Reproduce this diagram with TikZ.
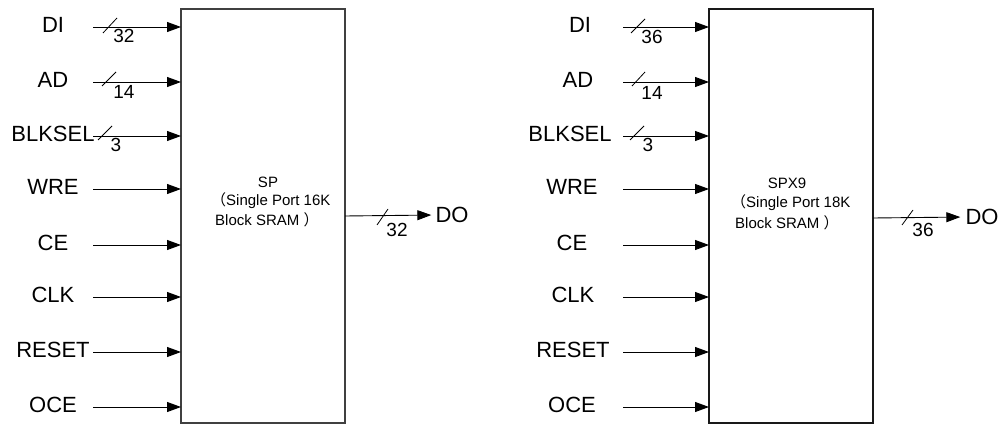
\documentclass[tikz,border=0pt]{standalone}
\usepackage{fontspec}
\setmainfont{Liberation Sans}
\newfontfamily\cjk{Noto Sans CJK SC}
\usetikzlibrary{arrows.meta}
\tikzset{
  sig/.style={font=\fontsize{22}{26}\selectfont, inner sep=0pt},
  bw/.style={font=\fontsize{19}{22}\selectfont, inner sep=0pt},
  blk/.style={draw=black!75, line width=1.1pt},
  wire/.style={draw=black, line width=0.9pt, -{Triangle[length=14pt,width=10pt]}},
  slash/.style={draw=black, line width=0.8pt},
  btxt/.style={font=\fontsize{15}{20}\selectfont, inner sep=0pt, align=left},
}
\begin{document}
\begin{tikzpicture}[x=1pt,y=-1pt]
\useasboundingbox (0,0) rectangle (1008,425);
% ---------- left block ----------
\path[blk] (181,9) rectangle (345,423);
\coordinate (Lw) at (181,0);
\coordinate (Le) at (345,216);
\node[btxt, align=center] (lt1) at (268,182) {SP};
\node[btxt, anchor=west] (lt2) at (211,201) {{\cjk （}Single Port 16K};
\node[btxt, anchor=west] (lt3) at (215,220) {Block SRAM {\cjk ）}};
\foreach \name/\lab/\y/\s in {ldi/DI/27/93, lad/AD/82/93, lblk/BLKSEL/136/93, lwre/WRE/189/93, lce/CE/245/93, lclk/CLK/297/93, lrst/RESET/352/93, loce/OCE/407/93}{
  \node[sig] (\name) at (53,\y-2) {\lab};
  \coordinate (\name s) at (\s,\y);
  \draw[wire] (\name s) -- (\name s -| Lw);
}
\draw[slash] (103,33) -- (117,18);
\node[bw] (ln1) at (124,36) {32};
\draw[slash] (102,86) -- (116,72);
\node[bw] (ln2) at (124,92) {14};
\draw[slash] (98,140) -- (112,126);
\node[bw] (ln3) at (116,145) {3};
\node[sig] (ldo) at (452,215) {DO};
\draw[wire, shorten >=4pt] (Le) -- (ldo.west);
\draw[slash] (377,225) -- (388,209);
\node[bw] (ln4) at (397,230) {32};
% ---------- right block ----------
\path[blk, draw=black!90] (709,9) rectangle (873,423);
\coordinate (Rw) at (709,0);
\coordinate (Re) at (873,218);
\node[btxt, align=center] (rt1) at (787,183) {SPX9};
\node[btxt, anchor=west] (rt2) at (731,203) {{\cjk （}Single Port 18K};
\node[btxt, anchor=west] (rt3) at (735,223) {Block SRAM {\cjk ）}};
\foreach \name/\lab/\y/\s/\cx in {rdi/DI/27/623/580, rad/AD/82/623/578, rblk/BLKSEL/136/623/570, rwre/WRE/189/623/572, rce/CE/245/623/572, rclk/CLK/297/623/573, rrst/RESET/352/623/573, roce/OCE/407/623/572}{
  \node[sig] (\name) at (\cx,\y-2) {\lab};
  \coordinate (\name s) at (\s,\y);
  \draw[wire] (\name s) -- (\name s -| Rw);
}
\draw[slash] (631,33) -- (645,19);
\node[bw] (rn1) at (652,37) {36};
\draw[slash] (632,86) -- (645,72);
\node[bw] (rn2) at (652,93) {14};
\draw[slash] (630,140) -- (644,126);
\node[bw] (rn3) at (648,145) {3};
\node[sig] (rdo) at (982,217) {DO};
\draw[wire, shorten >=5pt] (Re) -- (rdo.west);
\draw[slash] (902,225) -- (913,210);
\node[bw] (rn4) at (923,230) {36};
\end{tikzpicture}
\end{document}
